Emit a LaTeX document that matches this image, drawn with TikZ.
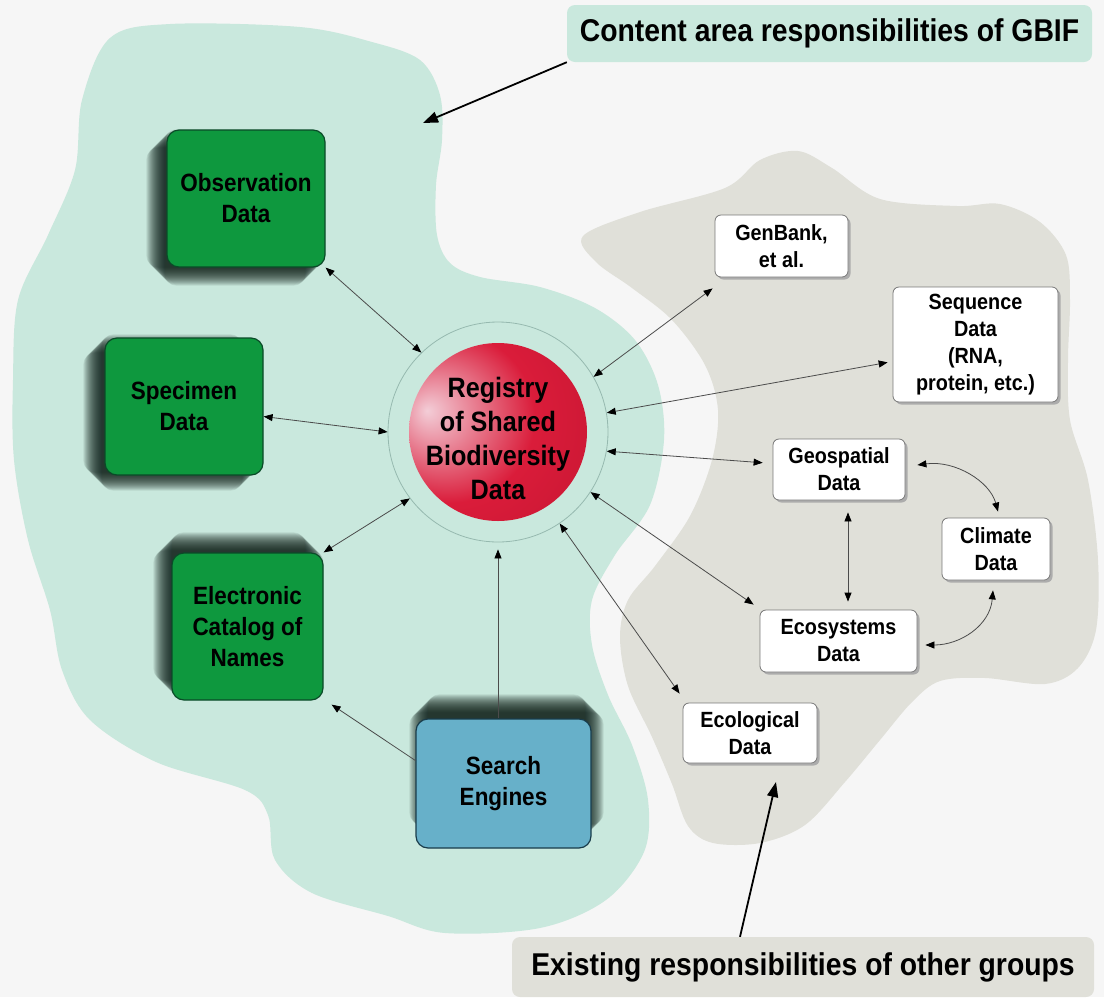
\documentclass[tikz,border=0pt]{standalone}
\usepackage{fontspec}
\setmainfont{Liberation Sans}[FakeStretch=0.9]
\usetikzlibrary{arrows.meta}
\usetikzlibrary{shadows}
\usetikzlibrary{positioning}
\definecolor{bgcol}{RGB}{246,246,246}
\definecolor{mint}{RGB}{201,232,221}
\definecolor{stone}{RGB}{224,224,217}
\definecolor{leafgreen}{RGB}{14,152,62}
\definecolor{leafdark}{RGB}{10,75,40}
\definecolor{skyblue}{RGB}{103,176,201}
\definecolor{bluedark}{RGB}{25,60,75}
\definecolor{boxline}{RGB}{120,120,120}
\definecolor{ringcol}{RGB}{150,185,175}
\definecolor{linegray}{RGB}{75,75,75}
\definecolor{shadecol}{RGB}{6,22,16}
\definecolor{regpink}{RGB}{243,205,215}
\definecolor{regred}{RGB}{218,28,58}
\definecolor{regdark}{RGB}{185,18,45}
\pgfdeclareradialshading{regball}{\pgfpoint{-20bp}{6bp}}{color(0bp)=(regpink); color(24bp)=(regred); color(60bp)=(regdark); color(75bp)=(regdark)}
\pgfdeclarelayer{area}
\pgfdeclarelayer{shade}
\pgfsetlayers{area,shade,main}
\tikzstyle{greenbox} = [rectangle, rounded corners=12pt, draw=leafdark, line width=1.2pt, fill=leafgreen, align=center, inner sep=0pt, font=\fontsize{25}{31}\selectfont\bfseries]
\tikzstyle{bluebox} = [greenbox, fill=skyblue, draw=bluedark]
\tikzstyle{whitebox} = [rectangle, rounded corners=6pt, draw=boxline, line width=0.8pt, fill=white, align=center, inner sep=0pt, font=\fontsize{22}{27}\selectfont\bfseries, drop shadow={shadow xshift=2.5pt, shadow yshift=-2.5pt, fill=gray!65, opacity=1}]
\tikzstyle{tag} = [rectangle, rounded corners=8pt, inner sep=0pt, font=\fontsize{31.5}{36}\selectfont\bfseries]
\tikzstyle{linkline} = [draw=linegray, line width=0.8pt]
\tikzstyle{pointer} = [line width=1.8pt, -{Triangle[length=15pt,width=11pt]}]
% soft shadow under a box: node, x offset, y offset
\newcommand{\softshade}[3]{%
  \foreach \kk in {-9,-8,...,9}
    \fill[shadecol, opacity=0.085, rounded corners=12pt]
      ([shift={(#2-\kk,#3+\kk)}]#1.north west) rectangle ([shift={(#2+\kk,#3-\kk)}]#1.south east);}

\begin{document}
\begin{tikzpicture}[x=1pt, y=-1pt, >={Triangle[length=9pt,width=7pt,color=black]}]
	\useasboundingbox (0,0) rectangle (1104,997);
	%areas
	\begin{pgfonlayer}{area}
	\fill[bgcol] (0,0) rectangle (1104,997);
	\fill[mint] plot[smooth cycle, tension=0.55] coordinates {(110,38) (170,24) (300,27) (372,42) (420,60) (440,95) (442,140) (436,185) (437,235) (450,263) (480,277) (540,287) (595,308) (635,340) (658,385) (664,440) (650,505) (615,555) (592,600) (592,645) (608,695) (632,745) (648,800) (644,852) (606,900) (540,928) (445,933) (388,916) (312,893) (275,860) (268,815) (245,790) (156,762) (90,720) (62,670) (50,610) (28,540) (14,460) (13,380) (18,300) (48,235) (75,170) (82,100)};
	\fill[stone] plot[smooth cycle, tension=0.55] coordinates {(583,236) (640,212) (725,188) (760,160) (798,151) (832,168) (880,199) (957,206) (1000,204) (1040,222) (1066,255) (1070,300) (1068,360) (1070,420) (1088,480) (1098,560) (1096,630) (1078,668) (1045,684) (985,678) (940,681) (912,702) (880,740) (845,782) (805,825) (760,843) (713,843) (688,826) (672,784) (652,737) (628,686) (620,637) (628,600) (655,566) (690,516) (712,460) (718,410) (705,365) (672,320) (632,288) (596,262)};
	\end{pgfonlayer}
	%nodes
	\node (reg) [circle, minimum size=220pt, draw=ringcol, line width=0.8pt] at (498,432) {};
	\node (ball) [circle, minimum size=178pt, inner sep=0pt, shading=regball] at (reg) {};
	\node (regtxt) [align=center, font=\fontsize{28}{34}\selectfont\bfseries] at ([yshift=-6pt]reg.center) {Registry\\of Shared\\Biodiversity\\Data};
	\node (obs) [greenbox, minimum width=158pt, minimum height=137pt] at (246,198.5) {Observation\\Data};
	\node (spec) [greenbox, minimum width=158pt, minimum height=137pt] at (184,406.5) {Specimen\\Data};
	\node (cat) [greenbox, minimum width=151pt, minimum height=147pt] at (247.5,626.5) {Electronic\\Catalog of\\Names};
	\node (search) [bluebox, minimum width=175pt, minimum height=129pt] at (503.5,783.5) {Search\\Engines};
	\node (gen) [whitebox, minimum width=133pt, minimum height=62pt] at (781.5,246) {GenBank,\\et al.};
	\node (seq) [whitebox, minimum width=165pt, minimum height=115pt] at (975.5,344.5) {Sequence\\Data\\(RNA,\\protein, etc.)};
	\node (geo) [whitebox, minimum width=132pt, minimum height=61pt] at (839,469.5) {Geospatial\\Data};
	\node (clim) [whitebox, minimum width=108pt, minimum height=62pt] at (996,549) {Climate\\Data};
	\node (eco) [whitebox, minimum width=157pt, minimum height=62pt] at (838.5,641) {Ecosystems\\Data};
	\node (ecol) [whitebox, minimum width=134pt, minimum height=60pt] at (750,733) {Ecological\\Data};
	\node (gbif) [tag, fill=mint, minimum width=525pt, minimum height=57pt] at (829.5,33.5) {Content area responsibilities of GBIF};
	\node (others) [tag, fill=stone, minimum width=582pt, minimum height=60pt] at (803,967) {Existing responsibilities of other groups};
	\coordinate (mintpt) at (423,123);
	\coordinate (stonept) at (776,782);
	%shadows
	\begin{pgfonlayer}{shade}
	\softshade{obs}{-11}{9}
	\softshade{spec}{-12}{6}
	\softshade{cat}{-9}{-11}
	\softshade{search}{3}{-15}
	\end{pgfonlayer}
	%lines
	\draw [pointer] (gbif.south west) -- (mintpt);
	\draw [pointer] ([xshift=-63pt]others.north) -- (stonept);
	\draw [linkline, <->] (obs.south east) -- (reg.134);
	\draw [linkline, <->] ([yshift=-10pt]spec.east) -- (reg.180);
	\draw [linkline, <->] (cat.north east) -- (reg.217);
	\draw [linkline, ->] ([yshift=23pt]search.west) -- ([shift={(8pt,-4pt)}]cat.south east);
	\draw [linkline, ->, shorten >=7pt] (search.north -| reg.south) -- (reg.south);
	\draw [linkline, <->] (reg.30) -- ([shift={(-2pt,-11pt)}]gen.south west);
	\draw [linkline, <->, shorten >=5pt] (reg.10) -- ([yshift=-17pt]seq.west);
	\draw [linkline, <->, shorten >=10pt] (reg.-10) -- ([yshift=6pt]geo.west);
	\draw [linkline, <->] (reg.-33) -- ([shift={(-6pt,5pt)}]eco.north west);
	\draw [linkline, <->] (reg.-56) -- ([shift={(-3pt,9pt)}]ecol.north west);
	\draw [linkline, <->, shorten <=12pt, shorten >=8pt] ([xshift=9pt]geo.south) -- ([xshift=9.5pt]eco.north);
	\draw [linkline, <->] ([shift={(12pt,4.5pt)}]geo.east) .. controls +(38,-5) and +(-8,-30) .. ([shift={(2pt,6pt)}]clim.north);
	\draw [linkline, <->] ([shift={(-3pt,-10pt)}]clim.south) .. controls +(-3,35) and +(35,0) .. ([shift={(8pt,-4pt)}]eco.east);
\end{tikzpicture}
\end{document}
